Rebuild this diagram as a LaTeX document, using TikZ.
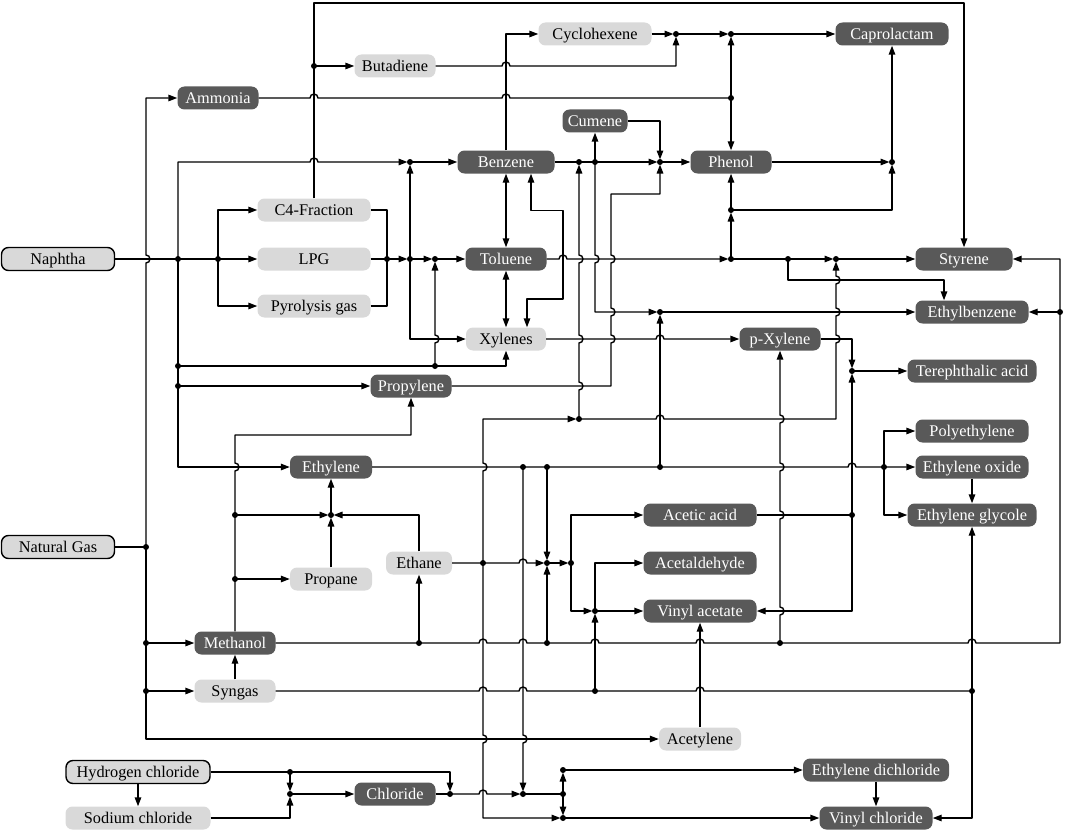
\documentclass[tikz,border=0pt]{standalone}
\usepackage{fontspec}
\setmainfont{Liberation Serif}
\usetikzlibrary{arrows.meta, positioning, calc}
\definecolor{boxdark}{RGB}{89,89,89}
\definecolor{boxpale}{RGB}{217,217,217}
\newcommand{\fs}{\fontsize{16.3}{19}\selectfont}
% line hops: horizontal bumps up, vertical bumps right
\newcommand{\hopr}[2]{-- ({#1-4},#2) arc[start angle=180,end angle=360,radius=4]}
\newcommand{\hopl}[2]{-- ({#1+4},#2) arc[start angle=0,end angle=-180,radius=4]}
\newcommand{\hopd}[2]{-- (#1,{#2-4}) arc[start angle=-90,end angle=90,radius=4]}
\newcommand{\hopu}[2]{-- (#1,{#2+4}) arc[start angle=90,end angle=-90,radius=4]}
\begin{document}
\begin{tikzpicture}[
  x=1pt, y=-1pt,
  ln/.style={line width=1.4pt, line join=round},
  ar/.style={ln, -{Triangle[length=9pt,width=6.5pt]}},
  aj/.style={ar, shorten >=2.5pt},
  ab/.style={ln, {Triangle[length=9pt,width=6.5pt]}-{Triangle[length=9pt,width=6.5pt]}},
  box/.style={rounded corners=7pt, minimum height=23pt, inner sep=0pt, text height=10.6pt, text depth=0pt, font=\fs},
  dark/.style={box, fill=boxdark, text=white},
  pale/.style={box, fill=boxpale},
  feed/.style={box, fill=boxpale, draw=black, line width=1.4pt}
  ]
  \useasboundingbox (0,0) rectangle (1065,832);
  % feedstocks
  \node[feed, minimum width=113pt] (naph) at (58,259) {Naphtha};
  \node[feed, minimum width=113pt] (ngas) at (58,547) {Natural Gas};
  \node[feed, minimum width=144pt] (hcl) at (138,772) {Hydrogen chloride};
  \node[pale, minimum width=145pt] (nacl) at (138,818) {Sodium chloride};
  % intermediates and products
  \node[dark, minimum width=81pt] (ammo) at (218,98) {Ammonia};
  \node[pale, minimum width=81pt] (buta) at (395,66) {Butadiene};
  \node[pale, minimum width=113pt] (cyhex) at (595,34) {Cyclohexene};
  \node[dark, minimum width=113pt] (capro) at (892,34) {Caprolactam};
  \node[dark, minimum width=65pt] (cume) at (595,121) {Cumene};
  \node[dark, minimum width=97pt] (benz) at (506,162) {Benzene};
  \node[dark, minimum width=81pt] (phen) at (731,162) {Phenol};
  \node[pale, minimum width=113pt] (cfour) at (314,210) {C4-Fraction};
  \node[pale, minimum width=113pt] (lpg) at (314,259) {LPG};
  \node[pale, minimum width=113pt] (pyro) at (314,306) {Pyrolysis gas};
  \node[dark, minimum width=81pt] (tolu) at (506,259) {Toluene};
  \node[pale, minimum width=80pt] (xyl) at (506,339) {Xylenes};
  \node[dark, minimum width=97pt] (styr) at (964,259) {Styrene};
  \node[dark, minimum width=113pt] (ebz) at (972,312) {Ethylbenzene};
  \node[dark, minimum width=81pt] (pxyl) at (780,339) {p-Xylene};
  \node[dark, minimum width=129pt] (tpa) at (972,371) {Terephthalic acid};
  \node[dark, minimum width=81pt] (propy) at (411,386) {Propylene};
  \node[dark, minimum width=113pt] (polye) at (972,431) {Polyethylene};
  \node[dark, minimum width=113pt] (eo) at (972,467) {Ethylene oxide};
  \node[dark, minimum width=129pt] (eg) at (972,515) {Ethylene glycole};
  \node[dark, minimum width=82pt] (ethy) at (331,467) {Ethylene};
  \node[dark, minimum width=113pt] (acet) at (700,515) {Acetic acid};
  \node[pale, minimum width=82pt] (propa) at (331,579) {Propane};
  \node[pale, minimum width=66pt] (ethane) at (419,563) {Ethane};
  \node[dark, minimum width=113pt] (acald) at (700,563) {Acetaldehyde};
  \node[dark, minimum width=113pt] (vac) at (700,611) {Vinyl acetate};
  \node[dark, minimum width=81pt] (meoh) at (235,643) {Methanol};
  \node[pale, minimum width=81pt] (syn) at (235,691) {Syngas};
  \node[pale, minimum width=82pt] (acety) at (700,739) {Acetylene};
  \node[dark, minimum width=146pt] (edc) at (876,770) {Ethylene dichloride};
  \node[dark, minimum width=81pt] (chlor) at (395,794) {Chloride};
  \node[dark, minimum width=113pt] (vcl) at (876,818) {Vinyl chloride};
  % junctions
  \coordinate (jButa) at (314,66);
  \coordinate (jN1) at (178,259); \coordinate (jN2) at (218,259);
  \coordinate (jL1) at (387,259); \coordinate (jL2) at (410,259); \coordinate (jL3) at (435,259);
  \coordinate (jB1) at (410,162);
  \coordinate (jX1) at (178,366); \coordinate (jX2) at (435,366); \coordinate (jP1) at (178,386);
  \coordinate (jB2) at (579,162); \coordinate (jB3) at (595,162); \coordinate (jPh) at (660,162);
  \coordinate (jCy) at (676,34); \coordinate (jCa) at (731,34); \coordinate (jAm) at (731,98);
  \coordinate (jCa2) at (892,162); \coordinate (jPh2) at (731,210);
  \coordinate (jT1) at (731,259); \coordinate (jT2) at (788,259); \coordinate (jT3) at (836,259);
  \coordinate (jE1) at (660,312); \coordinate (jE2) at (1060,312);
  \coordinate (jTp) at (852,371); \coordinate (jB4) at (579,419);
  \coordinate (jY1) at (523,467); \coordinate (jY2) at (547,467); \coordinate (jY3) at (660,467); \coordinate (jY4) at (884,467);
  \coordinate (jAc) at (852,515);
  \coordinate (jEt) at (331,515); \coordinate (jM1) at (235,515); \coordinate (jM2) at (235,579);
  \coordinate (jEa1) at (483,563); \coordinate (jEa2) at (547,563); \coordinate (jEa3) at (571,563);
  \coordinate (jV1) at (595,611);
  \coordinate (jG1) at (146,547); \coordinate (jG2) at (146,643); \coordinate (jG3) at (146,691);
  \coordinate (jMe1) at (419,643); \coordinate (jMe2) at (547,643); \coordinate (jMe3) at (780,643);
  \coordinate (jS1) at (595,691); \coordinate (jS2) at (972,691);
  \coordinate (jH1) at (290,772); \coordinate (jH2) at (290,794);
  \coordinate (jC1) at (450,794); \coordinate (jC2) at (523,794); \coordinate (jC3) at (563,794);
  \coordinate (jC4) at (563,770); \coordinate (jC5) at (563,818);
  % top
  \draw[ar] (cfour.north) -- (314,3) -| (styr.north);
  \draw[ar] (jButa) -- (buta.west);
  \draw[ln] (ammo.east) \hopr{314}{98} \hopr{506}{98} -- (jAm);
  \draw[aj] (buta.east) \hopr{506}{66} -| (jCy);
  \draw[ar] (benz.north) |- (cyhex.west);
  \draw[aj] (cyhex.east) -- (jCy);
  \draw[aj] (jCy) -- (jCa);
  \draw[ar] (jCa) -- (capro.west);
  \draw[aj] (jAm) -- (jCa);
  \draw[ar] (jAm) -- (phen.north);
  \draw[aj] (phen.east) -- (jCa2);
  \draw[ar] (jCa2) -- (capro.south);
  \draw[aj] (jPh2) -| (jCa2);
  \draw[ar] (jPh2) -- (phen.south);
  \draw[aj] (jT1) -- (jPh2);
  % naphtha
  \draw[ar] (naph.east) -- (lpg.west);
  \draw[ar] (jN2) |- (cfour.west);
  \draw[ar] (jN2) |- (pyro.west);
  \draw[aj] (jN1) -- (178,162) \hopr{314}{162} -- (jB1);
  \draw[ar] (jB1) -- (benz.west);
  \draw[ar] (jN1) |- (ethy.west);
  \draw[ar] (jP1) -- (propy.west);
  \draw[ar] (jX1) -| (xyl.south);
  \draw[aj] (jX2) \hopu{435}{339} -- (jL3);
  \draw[ln] (cfour.east) -| (jL1);
  \draw[ln] (pyro.east) -| (jL1);
  \draw[ln] (lpg.east) -- (jL1);
  \draw[aj] (jL1) -- (jL2);
  \draw[aj] (jL2) -- (jL3);
  \draw[ar] (jL3) -- (tolu.west);
  \draw[aj] (jL2) -- (jB1);
  \draw[ar] (jL2) |- (xyl.west);
  % aromatics
  \draw[ab] (benz.south) -- (tolu.north);
  \draw[ab] (tolu.south) -- (xyl.north);
  \draw[ab] ([xshift=25pt]benz.south) -- ++(0,37) -| (563,299) -| ([xshift=21pt]xyl.north);
  \draw[aj] (benz.east) -- (jPh);
  \draw[ar] (jPh) -- (phen.west);
  \draw[ar] (jB3) -- (cume.south);
  \draw[aj] (cume.east) -| (jPh);
  \draw[aj] (jB3) \hopd{595}{259} |- (jE1);
  \draw[ar] (jE1) -- (ebz.west);
  \draw[aj] (jY3) -- (jE1);
  \draw[aj] (propy.east) -- (611,386) \hopu{611}{339} \hopu{611}{312} \hopu{611}{259} |- (660,194) -- (jPh);
  \draw[aj] (jEa1) \hopu{483}{467} |- (jB4);
  \draw[aj] (jB4) \hopu{579}{386} \hopu{579}{339} \hopu{579}{259} -- (jB2);
  \draw[aj] (jB4) \hopr{660}{419} -- (836,419) \hopu{836}{339} \hopu{836}{312} \hopu{836}{280} -- (jT3);
  \draw[aj] (jEa1) \hopd{483}{739} |- (jC5);
  \draw[aj] (tolu.east) \hopr{563}{259} -- (jT1);
  \draw[ln] (jT1) -- (jT2);
  \draw[aj] (jT2) -- (jT3);
  \draw[ar] (jT3) -- (styr.west);
  \draw[ar] (jT2) -- (788,280) -| ([xshift=-28pt]ebz.north);
  \draw[ar] (xyl.east) \hopr{660}{339} -- (pxyl.west);
  \draw[aj] (pxyl.east) -| (jTp);
  \draw[ar] (jTp) -- (tpa.west);
  \draw[aj] (jAc) -- (jTp);
  \draw[ln] (acet.east) -- (jAc);
  \draw[ar] (jAc) |- (vac.east);
  % methanol line
  \draw[ar] (meoh.east) -- (jMe1) \hopr{483}{643} \hopr{523}{643} -- (jMe2) \hopr{595}{643} \hopr{700}{643} -- (jMe3) \hopr{972}{643} -- (1060,643) |- (styr.east);
  \draw[ar] (jE2) -- (ebz.east);
  \draw[ar] (jMe1) -- (ethane.south);
  \draw[aj] (jMe2) -- (jEa2);
  \draw[ar] (jMe3) \hopu{780}{611} \hopu{780}{515} \hopu{780}{467} \hopu{780}{419} -- (pxyl.south);
  % ethylene
  \draw[ar] (ethy.east) \hopr{852}{467} -- (eo.west);
  \draw[ar] (jY4) |- (polye.west);
  \draw[ar] (jY4) |- (eg.west);
  \draw[ar] (eo.south) -- (eg.north);
  \draw[aj] (jY2) -- (jEa2);
  \draw[aj] (jY1) \hopd{523}{739} -- (jC2);
  % ethane and C2 chemistry
  \draw[aj] (ethane.east) \hopr{523}{563} -- (jEa2);
  \draw[aj] (jEa2) -- (jEa3);
  \draw[ar] (jEa3) |- (acet.west);
  \draw[aj] (jEa3) |- (jV1);
  \draw[ar] (jV1) -- (vac.west);
  \draw[aj] (jS1) -- (jV1);
  \draw[ar] (jV1) |- (acald.west);
  \draw[aj] (ethane.north) |- (jEt);
  \draw[aj] (jM1) -- (jEt);
  \draw[aj] (propa.north) -- (jEt);
  \draw[ar] (jEt) -- (ethy.south);
  % natural gas
  \draw[ln] (ngas.east) -- (jG1);
  \draw[ar] (jG1) \hopu{146}{259} |- (ammo.west);
  \draw[ar] (jG1) |- (acety.west);
  \draw[ar] (jG2) -- (meoh.west);
  \draw[ar] (jG3) -- (syn.west);
  \draw[ar] (meoh.north) \hopu{235}{467} -- (235,435) -| (propy.south);
  \draw[ar] (jM2) -- (propa.west);
  \draw[ar] (syn.north) -- (meoh.south);
  \draw[ln] (syn.east) \hopr{483}{691} \hopr{523}{691} -- (jS1) \hopr{700}{691} -- (jS2);
  \draw[ar] (jS2) -- (eg.south);
  \draw[ar] (jS2) |- (vcl.east);
  \draw[ar] (acety.north) -- (vac.south);
  % chlorine
  \draw[ar] (hcl.south) -- (nacl.north);
  \draw[aj] (hcl.east) -| (jC1);
  \draw[aj] (jH1) -- (jH2);
  \draw[aj] (nacl.east) -| (jH2);
  \draw[ar] (jH2) -- (chlor.west);
  \draw[ln] (chlor.east) -- (jC1);
  \draw[aj] (jC1) \hopr{483}{794} -- (jC2);
  \draw[ln] (jC2) -- (jC3);
  \draw[aj] (jC3) -- (jC4);
  \draw[aj] (jC3) -- (jC5);
  \draw[ar] (jC4) -- (edc.west);
  \draw[ar] (jC5) -- (vcl.west);
  \draw[ar] (edc.south) -- (vcl.north);
  % dots
  \foreach \j in {jButa,jN1,jN2,jL1,jL2,jL3,jB1,jX1,jX2,jP1,jB2,jB3,jPh,jCy,jCa,jAm,jCa2,jPh2,
    jT1,jT2,jT3,jE1,jE2,jTp,jB4,jY1,jY2,jY3,jY4,jAc,jEt,jM1,jM2,jEa1,jEa2,jEa3,jV1,
    jG1,jG2,jG3,jMe1,jMe2,jMe3,jS1,jS2,jH1,jH2,jC1,jC2,jC3,jC4,jC5}
    \fill (\j) circle (3);
\end{tikzpicture}
\end{document}
